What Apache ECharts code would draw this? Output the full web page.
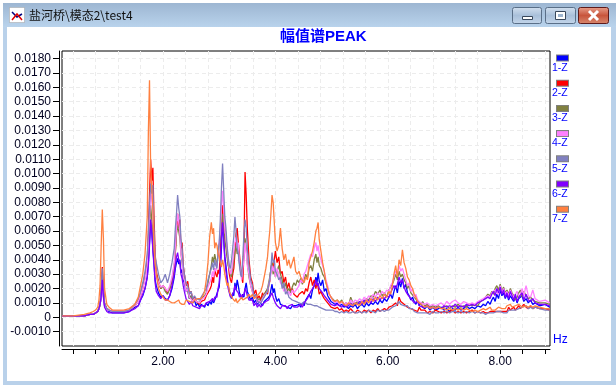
<!DOCTYPE html>
<html><head><meta charset="utf-8">
<style>html,body{margin:0;padding:0;background:#fff}#c{width:616px;height:387px}</style>
<script src="https://cdn.jsdelivr.net/npm/echarts@6/dist/echarts.min.js"></script>
</head><body><div id="c"></div>
<script>
const windowTitle = '盐河桥\\模态2\\test4';
const chartTitle = '幅值谱PEAK';
const unitName = 'Hz';
const seriesNames = ['1-Z','2-Z','3-Z','4-Z','5-Z','6-Z','7-Z'];
const seriesColors = ['#0000ff','#ff0000','#808040','#ff80ff','#8080c0','#8000ff','#ff8040'];
const xMinorTicks = [0.4,0.8,1.2,1.6,2,2.4,2.8,3.2,3.6,4,4.4,4.8,5.2,5.6,6,6.4,6.8,7.2,7.6,8,8.4,8.8];
const xLabels = [2,4,6,8];
const yTicks = [-0.001,0,0.001,0.002,0.003,0.004,0.005,0.006,0.007,0.008,0.009,0.01,0.011,0.012,0.013,0.014,0.015,0.016,0.017,0.018];
const ampUnit = 0.0001;
const freq = [
0.21,0.4,0.6,0.7,0.76,0.8,0.84,0.86,0.88,0.9,0.92,0.94,0.96,1.0,1.04,1.1,1.2,1.3,1.4,1.5,
1.56,1.6,1.64,1.68,1.72,1.74,1.76,1.78,1.8,1.82,1.84,1.86,1.88,1.92,1.96,2.0,2.04,2.08,2.12,2.16,
2.2,2.22,2.24,2.26,2.28,2.3,2.32,2.34,2.36,2.38,2.41,2.44,2.47,2.5,2.53,2.56,2.59,2.62,2.65,2.68,2.71,2.74,2.77,2.8,2.83,2.86,2.88,2.9,2.92,2.94,
2.96,2.98,3.0,3.02,3.04,3.06,3.08,3.1,3.12,3.14,3.16,3.18,3.2,3.22,3.24,3.26,3.28,3.3,3.32,3.34,3.36,3.38,3.4,3.42,3.44,3.46,3.48,3.5,3.53,3.56,
3.59,3.62,3.65,3.68,3.71,3.74,3.77,3.8,3.83,3.86,3.88,3.9,3.92,3.94,3.96,3.98,4.0,4.03,4.06,4.09,4.12,4.15,4.18,4.21,4.24,4.27,4.3,4.33,4.36,4.39,
4.42,4.45,4.48,4.51,4.54,4.57,4.6,4.63,4.66,4.69,4.72,4.74,4.76,4.78,4.81,4.84,4.87,4.9,4.93,4.96,4.99,5.02,5.06,5.1,5.14,5.18,5.22,5.26,5.3,5.34,
5.38,5.42,5.46,5.5,5.54,5.58,5.62,5.66,5.7,5.74,5.78,5.82,5.86,5.9,5.94,5.98,6.02,6.05,6.08,6.11,6.14,6.17,6.2,6.23,6.26,6.29,6.32,6.35,6.38,6.41,
6.44,6.47,6.5,6.53,6.56,6.59,6.62,6.66,6.7,6.75,6.8,6.85,6.9,6.95,7.0,7.05,7.1,7.15,7.2,7.25,7.3,7.35,7.4,7.45,7.5,7.55,7.6,7.65,7.7,7.74,
7.78,7.82,7.85,7.88,7.91,7.94,7.97,8.0,8.03,8.06,8.09,8.12,8.15,8.18,8.21,8.24,8.27,8.3,8.33,8.36,8.39,8.42,8.46,8.5,8.54,8.58,8.62,8.7,8.8,8.88];
const s1 = [
1,1,1,2,2,3,4,6,9,14,25,15,8,5,4,3,3,3,4,7,
8,12,15,20,28,38,52,66,60,48,38,26,22,17,14,15,13,12,15,20,
28,34,38,41,37,40,31,33,26,24,18,20,13,15,10,12,8,10,7,9,8,7,10,8,11,9,13,10,12,14,
13,19,21,33,48,68,55,42,36,28,22,18,15,13,17,15,24,19,26,22,17,15,13,16,14,20,24,18,15,12,
14,10,12,9,11,10,8,11,10,13,12,15,14,23,17,20,15,11,13,9,10,8,9,7,8,6,8,7,8,7,
9,7,10,8,12,11,16,13,19,22,28,24,31,25,22,26,18,20,15,13,11,12,9,10,8,9,7,8,6,8,
7,9,6,8,9,7,10,8,10,9,11,9,12,10,13,11,14,16,13,18,22,17,25,21,27,20,23,17,15,12,
14,11,9,12,8,10,7,6,8,5,7,5,6,7,5,6,4,6,5,7,5,6,8,6,7,6,8,7,9,8,
11,9,12,14,11,16,13,19,15,17,13,16,12,15,13,11,14,10,13,12,15,11,13,10,12,9,10,8,9,7];
const s2 = [
1,1,1,2,2,3,4,5,9,18,35,22,10,6,5,4,4,4,5,8,
11,15,20,28,40,60,85,110,95,104,70,45,32,25,20,22,20,17,20,25,
34,45,60,72,62,68,48,52,36,30,22,25,16,18,12,14,11,12,9,11,10,12,15,14,19,22,28,24,34,30,
28,33,30,46,60,78,70,62,58,44,38,30,26,24,30,34,45,58,62,52,44,34,28,24,45,101,85,62,40,28,
24,16,19,13,15,12,17,14,18,16,22,25,34,38,32,40,46,38,42,30,32,24,28,20,24,18,20,16,17,14,
16,15,18,16,20,18,24,28,22,26,20,24,21,16,18,15,13,14,10,9,7,8,6,7,5,6,4,5,4,6,
4,3,5,4,3,5,4,5,3,5,4,6,4,5,6,5,7,6,8,7,10,8,14,11,12,9,10,7,8,6,
7,5,6,4,7,5,4,5,3,4,3,5,4,3,4,3,4,5,3,4,3,4,3,4,5,3,4,3,4,3,
3,4,3,4,3,4,5,4,5,4,5,4,7,5,6,7,5,6,8,6,7,9,7,6,8,6,7,6,6,5];
const s3 = [
1,1,1,2,2,3,4,5,8,15,26,17,9,6,5,4,4,4,5,8,
12,16,22,28,38,48,60,78,68,60,44,35,30,24,20,22,18,16,20,26,
36,46,58,64,60,55,44,38,30,26,20,18,13,15,11,13,11,12,10,13,12,15,17,24,30,36,42,38,44,40,
36,44,50,54,60,72,62,54,48,42,36,34,30,28,34,40,46,50,44,48,38,32,28,38,42,55,48,38,28,22,
18,13,15,11,13,11,14,16,15,20,24,28,33,38,30,34,28,32,36,30,26,20,24,18,20,17,21,24,22,26,
24,27,23,26,30,27,34,36,32,40,44,38,42,36,34,30,28,24,20,16,14,15,11,12,10,12,9,10,8,14,
10,9,11,9,12,10,13,12,15,14,18,16,19,15,17,14,19,20,23,26,30,26,32,28,30,26,24,20,22,17,
18,14,15,11,12,9,11,8,9,7,8,7,8,6,7,8,6,8,7,9,7,8,7,9,8,9,8,11,12,14,
16,15,18,16,20,22,19,23,18,21,17,19,16,20,17,15,12,14,17,19,14,18,15,13,14,12,11,10,10,9];
const s4 = [
1,1,1,2,2,3,4,6,9,14,24,14,8,5,5,4,4,4,5,8,
11,15,20,26,36,50,68,88,82,72,52,38,28,24,21,22,20,18,22,28,
38,50,62,72,66,60,44,40,28,26,18,20,14,15,11,13,11,12,10,12,11,14,16,21,24,27,32,28,34,32,
36,44,52,60,78,88,74,62,56,48,40,34,30,32,38,46,52,56,48,52,38,32,26,34,40,52,46,36,30,22,
18,13,15,10,12,10,13,15,14,18,22,26,30,36,32,36,28,34,30,24,22,18,20,16,18,15,19,17,18,20,
22,26,24,30,32,36,40,44,42,48,52,46,50,44,40,36,32,26,22,16,14,12,10,11,9,11,9,10,9,12,
10,12,11,13,11,14,12,15,13,16,14,17,15,18,16,19,18,22,24,28,32,30,36,32,34,30,26,22,24,18,
20,14,16,12,13,10,11,9,10,8,9,8,9,10,8,11,9,11,12,10,9,11,10,9,10,9,11,12,13,14,
15,14,17,18,19,20,16,22,17,20,16,18,15,19,16,14,15,18,14,16,20,15,22,15,14,19,13,11,12,10];
const s5 = [
1,1,1,2,2,3,4,5,9,20,34,20,10,6,5,4,4,4,5,9,
13,18,24,32,44,58,78,93,86,92,60,42,38,30,24,26,30,24,30,38,
48,62,72,85,76,70,54,48,36,30,24,22,16,18,13,15,13,13,12,14,15,18,20,26,30,34,38,33,40,36,
34,46,52,68,90,107,88,70,62,50,42,36,34,40,48,56,70,60,48,44,36,30,28,42,58,68,62,48,36,26,
22,14,16,11,12,10,12,14,13,18,22,26,34,45,38,40,32,30,26,28,20,24,16,18,14,15,12,13,11,12,
10,11,9,11,10,9,10,9,10,8,9,8,8,7,8,6,7,5,6,5,4,5,4,4,3,4,3,4,3,3,
4,3,3,4,3,4,3,5,4,4,3,5,4,5,4,5,5,6,7,6,8,7,11,9,10,8,7,8,6,5,
6,4,5,3,4,3,4,3,3,2,4,3,3,4,3,4,3,4,4,3,4,3,4,3,4,3,4,3,3,2,
3,3,4,3,4,4,5,4,5,3,4,3,5,4,5,4,5,4,6,5,7,6,8,6,7,6,7,6,5,5];
const s6 = [
1,1,1,2,2,3,4,6,9,14,26,14,7,4,3,3,3,3,4,6,
8,12,16,20,28,36,50,68,60,46,36,24,18,15,13,15,12,12,15,22,
30,36,42,45,40,38,30,27,22,18,13,14,9,11,8,9,7,8,6,8,7,8,10,9,11,10,13,11,14,15,
14,20,24,36,56,66,54,40,32,26,20,17,14,13,16,18,22,19,20,17,14,16,14,13,16,20,18,15,12,11,
12,8,10,7,9,7,9,8,11,10,12,14,13,17,14,15,10,8,9,6,8,7,8,6,8,7,9,7,8,7,
8,9,7,10,9,13,14,18,20,22,26,22,24,20,19,17,15,16,12,11,9,10,8,9,8,7,9,7,8,10,
8,10,9,11,9,12,10,12,10,13,11,14,12,14,13,15,14,17,18,22,20,23,28,24,26,21,18,16,15,13,
12,10,9,11,8,9,7,7,8,6,7,6,7,6,8,7,8,7,9,7,8,7,9,8,9,8,10,11,12,13,
14,13,16,18,15,20,17,21,16,19,14,17,13,18,15,12,16,11,14,13,17,12,16,12,11,13,10,9,9,8];
const s7 = [
1,1,2,3,4,5,7,12,22,50,75,55,20,9,7,5,5,5,6,9,
14,22,30,44,70,130,165,105,90,75,50,38,30,20,16,14,12,12,11,10,
10,11,11,12,12,10,11,9,10,9,12,13,11,12,10,12,11,13,12,13,15,18,26,38,56,66,58,62,48,52,
50,44,42,38,35,40,36,30,26,22,24,18,16,15,13,12,11,13,10,11,12,13,14,12,11,13,12,14,16,14,
16,13,12,15,14,18,22,28,34,42,52,60,72,85,80,66,52,46,50,62,48,40,44,36,40,34,38,42,32,30,
32,28,26,24,28,26,38,42,46,52,60,62,66,54,46,38,32,24,20,16,14,12,11,12,10,11,9,8,10,9,
8,10,9,8,11,9,12,10,13,11,14,12,15,13,16,14,18,16,22,30,36,28,40,36,47,38,34,28,26,22,
20,16,14,11,12,9,8,7,8,6,7,6,7,6,6,5,6,5,6,5,6,5,6,5,4,5,4,5,6,5,
6,7,5,6,5,6,7,6,6,7,6,8,7,9,7,6,8,7,9,8,7,8,8,7,8,7,8,7,6,6];
const allSeries = [s1,s2,s3,s4,s5,s6,s7];

const chart = echarts.init(document.getElementById('c'), null, {renderer:'canvas'});
const labelFont = '"Liberation Sans", Arial, sans-serif';
const rich = {t:{color:'#0000ff',fontSize:10.5,fontFamily:labelFont,lineHeight:13,height:13},s:{width:5,height:5}};
seriesColors.forEach((c,i)=>{ rich['b'+i] = {width:11,height:5,backgroundColor:c,borderColor:'#808080',borderWidth:1,lineHeight:7}; });

const btn = (a,b,c)=>new echarts.graphic.LinearGradient(0,0,0,1,[{offset:0,color:a},{offset:.5,color:b},{offset:1,color:c}]);
const win = [
 {type:'rect',z:-20,shape:{x:3,y:3,width:613,height:382},style:{fill:'#b9d1ea'}},
 {type:'rect',z:-19,shape:{x:3,y:3,width:613,height:24},style:{fill:new echarts.graphic.LinearGradient(0,0,0,1,[{offset:0,color:'#9db6d2'},{offset:1,color:'#b9d3ec'}])}},
 {type:'rect',z:-18,shape:{x:7,y:27,width:604,height:354},style:{fill:'#ffffff'}},
 {type:'rect',z:-17,shape:{x:9.5,y:7.5,width:15,height:15},style:{fill:'#ffffff',stroke:'#a0a0a0',lineDash:[1,1],lineWidth:1}},
 {type:'polyline',z:-16,shape:{points:[[12,12],[17,17],[22,14]]},style:{stroke:'#000080',fill:null,lineWidth:1.5}},
 {type:'polyline',z:-16,shape:{points:[[12,20],[17,14],[22,20]]},style:{stroke:'#e00000',fill:null,lineWidth:1.5}},
 {type:'text',z:-16,style:{x:29,y:15.5,text:windowTitle,fill:'#101010',font:'12px "Noto Sans CJK SC", sans-serif',verticalAlign:'middle'}},
 {type:'rect',z:-16,shape:{x:512.5,y:7.5,width:29,height:16,r:2},style:{fill:btn('#d3e0ef','#a9c0da','#c4d6ea'),stroke:'#5a6f88'}},
 {type:'rect',z:-16,shape:{x:545.5,y:7.5,width:30,height:16,r:2},style:{fill:btn('#d3e0ef','#a9c0da','#c4d6ea'),stroke:'#5a6f88'}},
 {type:'rect',z:-16,shape:{x:578.5,y:7.5,width:30,height:16,r:2},style:{fill:btn('#e8a08c','#c8553c','#d88a70'),stroke:'#5e1a1a'}},
 {type:'rect',z:-15,shape:{x:522.5,y:16.5,width:10,height:3},style:{fill:'#ffffff',stroke:'#39485c'}},
 {type:'rect',z:-15,shape:{x:555.5,y:11.5,width:10,height:8},style:{fill:'#ffffff',stroke:'#39485c'}},
 {type:'rect',z:-15,shape:{x:558,y:14,width:5,height:3},style:{fill:'#9fb6d0'}},
 {type:'polyline',z:-15,shape:{points:[[589,11],[598,20]]},style:{stroke:'#ffffff',fill:null,lineWidth:3}},
 {type:'polyline',z:-15,shape:{points:[[598,11],[589,20]]},style:{stroke:'#ffffff',fill:null,lineWidth:3}},
 {type:'text',z:10,style:{x:553,y:340,text:unitName,fill:'#0000ff',font:'12px "Liberation Sans", sans-serif',verticalAlign:'middle'}}
];

chart.setOption({
 animation:false,
 textStyle:{fontFamily:labelFont},
 title:{text:chartTitle,left:280,top:29,padding:0,textStyle:{color:'#0000ff',fontSize:15,fontWeight:'bold',fontFamily:'"Liberation Sans","Noto Sans CJK SC",sans-serif'}},
 graphic:{elements:win},
 legend:{show:true,orient:'vertical',left:547,top:52,padding:0,itemGap:2.7,itemWidth:0,itemHeight:0,icon:'rect',selectedMode:false,
   data:seriesNames,
   formatter:n=>`{s|}{b${seriesNames.indexOf(n)}|}\n{t|${n}}`,
   textStyle:{rich,padding:0}},
 grid:{left:62,top:51,width:488,height:295,show:true,borderColor:'#000',borderWidth:1,backgroundColor:'#fff'},
 xAxis:{type:'value',min:0.203,max:8.886,offset:3,
   axisLine:{show:true,onZero:false,lineStyle:{color:'#000',width:1}},
   axisTick:{show:true,length:5,customValues:xMinorTicks,lineStyle:{color:'#000'}},
   axisLabel:{color:'#000020',fontSize:12,margin:7,customValues:xLabels,formatter:v=>v.toFixed(2)},
   splitLine:{show:true,lineStyle:{color:'#ececec',type:[4,3],width:1}}},
 yAxis:{type:'value',min:-0.002,max:0.01853,offset:3,
   axisLine:{show:true,onZero:false,lineStyle:{color:'#000',width:1}},
   axisTick:{show:true,length:6,customValues:yTicks,lineStyle:{color:'#000'}},
   axisLabel:{color:'#000020',fontSize:12,margin:8,customValues:yTicks,formatter:v=>v===0?'0':v.toFixed(4)},
   splitLine:{show:true,lineStyle:{color:'#ececec',type:[4,3],width:1}}},
 series:allSeries.map((vals,i)=>({
   type:'line',name:seriesNames[i],showSymbol:false,silent:true,
   lineStyle:{color:seriesColors[i],width:1.3},itemStyle:{color:seriesColors[i]},
   data:freq.map((f,k)=>[f,vals[k]*ampUnit])
 }))
});
</script></body></html>
